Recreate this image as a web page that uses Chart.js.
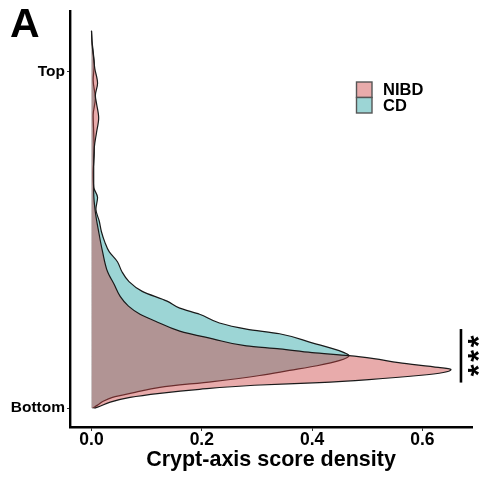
<!DOCTYPE html>
<html>
<head>
<meta charset="utf-8">
<script src="https://cdn.jsdelivr.net/npm/chart.js@4/dist/chart.umd.min.js"></script>
<style>
  html, body { margin: 0; padding: 0; background: #ffffff; }
  #wrap { width: 484px; height: 479px; }
</style>
</head>
<body>
<div id="wrap"><canvas id="chart" width="484" height="479"></canvas></div>
<script>
// Groups shown in the legend
const groups = ['NIBD', 'CD'];

// Crypt-axis score (0 = bottom, 1 = top) and the density at each score
const nibdScore = [0.000, 0.003, 0.018, 0.032, 0.044, 0.056, 0.068, 0.076, 0.085, 0.097,
                   0.106, 0.115, 0.121, 0.135, 0.147, 0.156, 0.165, 0.176, 0.185, 0.206,
                   0.229, 0.259, 0.279, 0.303, 0.332, 0.368, 0.406, 0.465, 0.524, 0.582,
                   0.641, 0.715, 0.774, 0.818, 0.862, 0.906, 0.929, 0.965, 1.009, 1.038,
                   1.082, 1.121];
const nibdDensity = [0.005, 0.011, 0.034, 0.070, 0.124, 0.196, 0.295, 0.413, 0.503, 0.593,
                     0.638, 0.652, 0.629, 0.557, 0.512, 0.467, 0.400, 0.341, 0.281, 0.220,
                     0.160, 0.115, 0.088, 0.067, 0.052, 0.041, 0.029, 0.020, 0.013, 0.007,
                     0.004, 0.004, 0.005, 0.009, 0.013, 0.009, 0.007, 0.011, 0.006, 0.004,
                     0.001, 0.000];

const cdScore = [0.000, 0.009, 0.021, 0.032, 0.047, 0.062, 0.079, 0.097, 0.112, 0.126,
                 0.141, 0.156, 0.165, 0.171, 0.194, 0.221, 0.235, 0.253, 0.279, 0.297,
                 0.318, 0.347, 0.376, 0.406, 0.435, 0.465, 0.494, 0.524, 0.556, 0.591,
                 0.626, 0.656, 0.700, 0.760, 0.820, 0.870, 0.920, 0.975, 1.020, 1.060,
                 1.090, 1.121];
const cdDensity = [0.002, 0.011, 0.022, 0.038, 0.079, 0.124, 0.220, 0.305, 0.359, 0.409,
                   0.449, 0.467, 0.458, 0.449, 0.400, 0.341, 0.281, 0.232, 0.196, 0.160,
                   0.137, 0.092, 0.068, 0.055, 0.047, 0.032, 0.024, 0.018, 0.014, 0.008,
                   0.011, 0.004, 0.003, 0.005, 0.004, 0.003, 0.007, 0.003, 0.005, 0.003,
                   0.001, 0.000];

// Axis ticks
const xTickValues = [0, 0.2, 0.4, 0.6];
const yTickValues = [0, 1];
const yTickLabels = ['Bottom', 'Top'];

// Significance marker: density position and score span of the bar
const sigLabel = '***';
const sigBarDensity = [0.670];
const sigBarScore = [0.076, 0.235];

const FONT = "'Liberation Sans', Arial, Helvetica, sans-serif";
const fills = ['rgba(203, 68, 68, 0.45)', 'rgba(36, 162, 162, 0.45)'];

const toPoints = (score, dens) => score.map((s, i) => ({ x: dens[i], y: s }));

// Legend, panel letter and the significance bar
const extras = {
  id: 'extras',
  afterDraw(chart) {
    const ctx = chart.ctx;
    const xs = chart.scales.x, ys = chart.scales.y;
    ctx.save();

    ctx.fillStyle = '#000';
    ctx.font = `bold 41px ${FONT}`;
    ctx.textAlign = 'left';
    ctx.textBaseline = 'alphabetic';
    ctx.fillText('A', 10, 37);

    // legend keys
    const keyX = 356.5, keyY = 82, keyW = 15.5, keyH = 15.5;
    groups.forEach((g, i) => {
      const y = keyY + i * keyH;
      ctx.fillStyle = '#ffffff';
      ctx.fillRect(keyX, y, keyW, keyH);
      ctx.fillStyle = fills[i];
      ctx.fillRect(keyX, y, keyW, keyH);
      ctx.strokeStyle = '#555555';
      ctx.lineWidth = 1.4;
      ctx.strokeRect(keyX, y, keyW, keyH);
      ctx.fillStyle = '#000';
      ctx.font = `bold 16.5px ${FONT}`;
      ctx.textBaseline = 'middle';
      ctx.fillText(g, 383, y + keyH / 2 + 1);
    });

    // significance bar and stars
    const bx = xs.getPixelForValue(sigBarDensity[0]);
    const by1 = ys.getPixelForValue(sigBarScore[1]);
    const by2 = ys.getPixelForValue(sigBarScore[0]);
    ctx.strokeStyle = '#000';
    ctx.lineWidth = 2.6;
    ctx.beginPath();
    ctx.moveTo(bx, by1);
    ctx.lineTo(bx, by2);
    ctx.stroke();

    ctx.font = `bold 30px ${FONT}`;
    ctx.textAlign = 'left';
    ctx.textBaseline = 'alphabetic';
    const m = ctx.measureText('*');
    const offX = -(m.actualBoundingBoxRight - m.actualBoundingBoxLeft) / 2;
    const offY = (m.actualBoundingBoxAscent - m.actualBoundingBoxDescent) / 2;
    const cx = bx + 13.5;
    const mid = (by1 + by2) / 2;
    const stars = sigLabel.split('');
    stars.forEach((st, i) => {
      const cy = mid + (i - (stars.length - 1) / 2) * 14.5;
      ctx.save();
      ctx.translate(cx, cy);
      ctx.rotate(-Math.PI / 2);
      ctx.fillText(st, offX, offY);
      ctx.restore();
    });

    ctx.restore();
  }
};

new Chart(document.getElementById('chart'), {
  type: 'line',
  data: {
    datasets: [
      {
        label: groups[0],
        data: toPoints(nibdScore, nibdDensity),
        backgroundColor: fills[0],
        borderColor: '#1a1a1a',
        borderWidth: 1.2,
        fill: 'origin',
        pointRadius: 0,
        cubicInterpolationMode: 'monotone'
      },
      {
        label: groups[1],
        data: toPoints(cdScore, cdDensity),
        backgroundColor: fills[1],
        borderColor: '#1a1a1a',
        borderWidth: 1.2,
        fill: 'origin',
        pointRadius: 0,
        cubicInterpolationMode: 'monotone'
      }
    ]
  },
  options: {
    indexAxis: 'y',
    responsive: false,
    animation: false,
    events: [],
    layout: { padding: { top: 7, right: 12, left: 0, bottom: 0 } },
    plugins: { legend: { display: false }, tooltip: { enabled: false } },
    scales: {
      x: {
        type: 'linear',
        min: -0.039,
        max: 0.69,
        afterFit: s => { s.height = 52; },
        afterBuildTicks: s => { s.ticks = xTickValues.map(v => ({ value: v })); },
        border: { display: true, color: '#000', width: 2.4 },
        grid: { drawOnChartArea: false, drawTicks: true, tickLength: 4, color: '#333', lineWidth: 1 },
        ticks: {
          color: '#000',
          font: { family: FONT, size: 17.5, weight: 'bold' },
          padding: -1,
          maxRotation: 0,
          callback: v => Number(v).toFixed(1)
        },
        title: {
          display: true,
          text: 'Crypt-axis score density',
          color: '#000',
          font: { family: FONT, size: 21.5, weight: 'bold' },
          padding: { top: 0, bottom: 6 }
        }
      },
      y: {
        type: 'linear',
        min: -0.056,
        max: 1.179,
        afterFit: s => { s.width = 70; },
        afterBuildTicks: s => { s.ticks = yTickValues.map(v => ({ value: v })); },
        border: { display: true, color: '#000', width: 2.4 },
        grid: { drawOnChartArea: false, drawTicks: true, tickLength: 3, color: '#333', lineWidth: 1 },
        ticks: {
          color: '#000',
          font: { family: FONT, size: 15.5, weight: 'bold' },
          padding: 2,
          callback: v => yTickLabels[yTickValues.indexOf(v)] ?? ''
        }
      }
    }
  },
  plugins: [extras]
});
</script>
</body>
</html>
